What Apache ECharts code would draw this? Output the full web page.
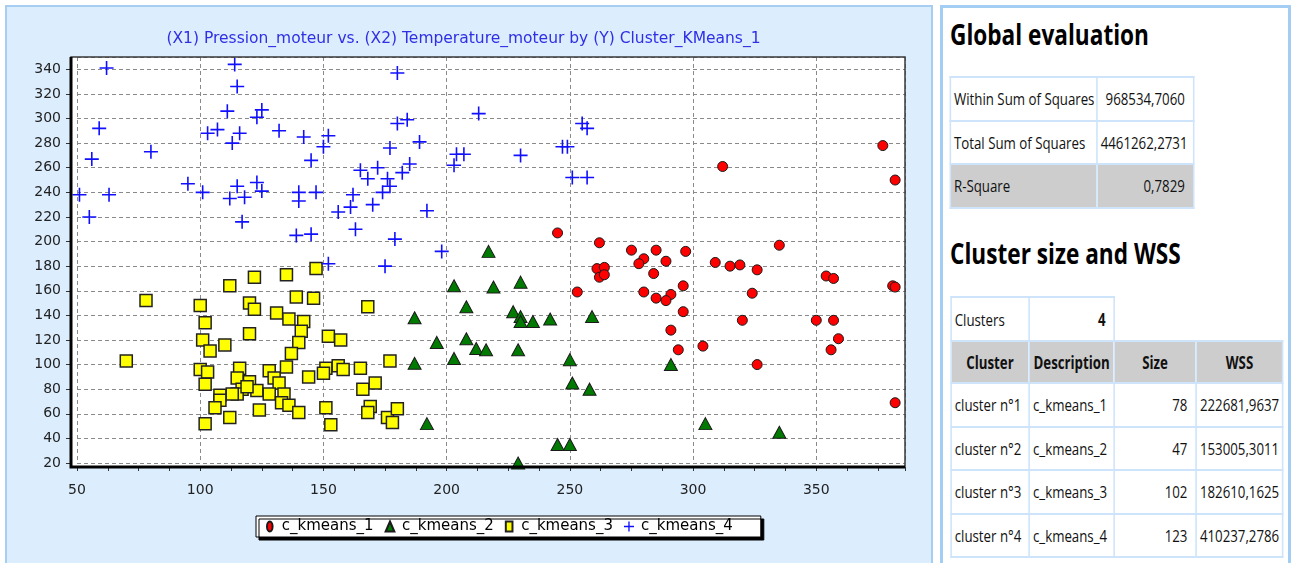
<!DOCTYPE html>
<html>
<head>
<meta charset="utf-8">
<title>Cluster_KMeans_1</title>
<script src="https://cdn.jsdelivr.net/npm/echarts@6/dist/echarts.min.js"></script>
<style>
  html, body { margin: 0; padding: 0; width: 1292px; height: 563px; overflow: hidden; background: #fff; }
  #panel { position: absolute; left: 5px; top: 5px; width: 928px; height: 600px; box-sizing: border-box;
           background: #dcedfd; border: 2px solid #a6cdf2; }
  #chart { position: absolute; left: 0; top: 0; width: 927px; height: 563px; }
  #report { position: absolute; left: 940px; top: 5px; width: 351px; height: 600px; box-sizing: border-box;
            background: #fff; border: 3px solid #a4cdf3; }
  #rc { position: absolute; left: 948px; top: 0; width: 600px; height: 563px; transform: scaleX(0.78);
        transform-origin: 0 0; font-family: 'Open Sans', sans-serif; color: #111; }
  .h { position: absolute; margin: 0; font-weight: bold; font-size: 29px; line-height: 29px; white-space: nowrap; color: #000; }
  table { position: absolute; border-collapse: collapse; table-layout: fixed; font-size: 17px; }
  td { border: 2px solid #cde4fa; padding: 0 10px 0 4px; white-space: nowrap; background: #fff; overflow: hidden; }
  td.num { text-align: right; }
  td.head { text-align: center; font-weight: bold; background: #cdcdcd; padding: 0 2px; }
  tr.grey td { background: #cdcdcd; }
  td.blank { border: none; background: transparent; }
</style>
</head>
<body>
<div id="panel"></div>
<div id="chart"></div>
<div id="report"></div>
<div id="rc">
  <h2 class="h" id="h1" style="left:2.6px;top:19px;">Global evaluation</h2>
  <table id="global" style="left:1.7px;top:76px;"></table>
  <h2 class="h" id="h2" style="left:2.6px;top:238px;">Cluster size and WSS</h2>
  <table id="clusters" style="left:2.6px;top:296px;"></table>
</div>
<script>
// ---- scatter data: [Pression_moteur, Temperature_moteur] ----
const seriesNames = ['c_kmeans_1', 'c_kmeans_2', 'c_kmeans_3', 'c_kmeans_4'];

const kmeans1 = [
  [377,278],[312,261],[382,250],[245,207],[262,199],[275,193],[285,193],[297,192],[335,197],
  [289,184],[280,186],[278,182],[309,183],[315,180],[319,181],[326,177],[261,178],[264,179],
  [262,171],[264,173],[284,174],[354,172],[357,170],[381,164],[382,163],[296,164],[253,159],
  [280,159],[285,154],[291,157],[289,152],[324,158],[296,143],[291,128],[294,112],[304,115],
  [320,136],[326,100],[350,136],[357,136],[359,121],[356,112],[382,69]
];

const kmeans2 = [
  [217,192],[203,164],[219,163],[230,167],[208,147],[227,143],[230,139],[230,135],[235,135],
  [242,137],[259,139],[208,121],[212,113],[216,112],[229,112],[203,105],[250,104],[291,100],
  [251,85],[258,80],[305,52],[335,45],[245,35],[250,35],[229,20],[187,138],[196,118],
  [187,101],[192,52]
];

const kmeans3 = [
  [78,152],[70,103],[100,148],[102,134],[101,120],[104,111],[110,116],[100,96],[103,94],
  [102,84],[108,75],[108,71],[106,65],[102,52],[112,57],[112,164],[122,171],[135,173],
  [147,178],[120,150],[122,145],[120,125],[131,142],[136,137],[142,135],[139,155],[146,154],
  [141,127],[140,118],[137,109],[135,98],[116,97],[115,89],[120,86],[117,80],[115,76],
  [113,76],[123,79],[128,95],[130,89],[132,85],[128,76],[134,76],[133,69],[136,67],
  [140,61],[124,63],[152,123],[157,120],[151,97],[156,99],[158,96],[144,90],[150,93],
  [151,65],[153,51],[168,147],[165,97],[166,80],[171,85],[177,103],[169,66],[168,61],
  [176,57],[178,53],[180,64],[119,82]
];

const kmeans4 = [
  [62,341],[114,344],[115,326],[111,306],[123,301],[125,307],[59,292],[103,288],[107,291],
  [116,288],[113,280],[132,290],[142,285],[152,286],[150,277],[145,266],[56,267],[80,273],
  [51,238],[63,238],[55,220],[95,247],[101,240],[115,245],[112,235],[118,236],[123,248],
  [125,241],[117,216],[140,240],[140,233],[147,240],[139,205],[145,206],[152,182],[156,224],
  [161,228],[162,238],[163,210],[170,230],[165,258],[168,251],[172,260],[176,251],[174,240],
  [177,245],[182,256],[185,263],[177,276],[180,296],[184,299],[180,337],[189,281],[192,225],
  [175,180],[179,202],[198,192],[203,262],[204,271],[207,271],[213,304],[230,270],[247,277],
  [249,277],[255,296],[257,292],[251,252],[257,252]
];

// ---- axis ticks ----
const xTicks = [50, 100, 150, 200, 250, 300, 350];
const yTicks = [20, 40, 60, 80, 100, 120, 140, 160, 180, 200, 220, 240, 260, 280, 300, 320, 340];
const xMax = 386;
const yMax = 350;

// ---- report tables ----
const globalLabels = ['Within Sum of Squares', 'Total Sum of Squares', 'R-Square'];
const globalValues = ['968534,7060', '4461262,2731', '0,7829'];
const clusterCount = 4;
const clusterHeaders = ['Cluster', 'Description', 'Size', 'WSS'];
const clusterIds = ['cluster n°1', 'cluster n°2', 'cluster n°3', 'cluster n°4'];
const clusterSizes = [78, 47, 102, 123];
const clusterWss = ['222681,9637', '153005,3011', '182610,1625', '410237,2786'];

const titleText = '(X1) Pression_moteur vs. (X2) Temperature_moteur by (Y) Cluster_KMeans_1';

// ---- layout ----
const PLOT = { left: 77, top: 57, width: 828, height: 406 };
const Y_AXIS_OFFSET = 6;
const X_AXIS_OFFSET = 4;
const frameLeft = PLOT.left - Y_AXIS_OFFSET;
const frameRight = PLOT.left + PLOT.width;
const frameTop = PLOT.top;
const frameBottom = PLOT.top + PLOT.height + X_AXIS_OFFSET;

const FONT = 'DejaVu Sans';
const plusPath = 'path://M0,6.2H14V7.8H0ZM6.2,0H7.8V14H6.2Z';

const chart = echarts.init(document.getElementById('chart'), null, { renderer: 'canvas' });

chart.setOption({
  animation: false,
  title: {
    text: titleText,
    left: 'center',
    top: 31,
    padding: 0,
    textStyle: { fontFamily: FONT, fontSize: 15.5, fontWeight: 'normal', color: '#2f2fe6' }
  },
  legend: {
    left: 256,
    top: 516,
    orient: 'horizontal',
    padding: [3, 28, 3, 10],
    itemGap: 11,
    itemWidth: 14,
    itemHeight: 10,
    backgroundColor: '#fff',
    borderColor: '#000',
    borderWidth: 1,
    shadowColor: '#000',
    shadowBlur: 0,
    shadowOffsetX: 3,
    shadowOffsetY: 3,
    selectedMode: false,
    textStyle: { fontFamily: FONT, fontSize: 15, color: '#000' },
    data: [
      { name: seriesNames[0], icon: 'path://M2.5,0A2.5,4.5,0,1,1,2.5,9A2.5,4.5,0,1,1,2.5,0Z' },
      { name: seriesNames[1], icon: 'path://M3.5,0L7,8H0Z' },
      { name: seriesNames[2], icon: 'path://M0,0H6V9H0Z' },
      { name: seriesNames[3], icon: 'path://M0,3.9H9V5.1H0ZM3.9,0H5.1V9H3.9Z' }
    ]
  },
  grid: {
    left: PLOT.left, top: PLOT.top, width: PLOT.width, height: PLOT.height,
    outerBoundsMode: 'none', containLabel: false
  },
  xAxis: {
    type: 'value',
    min: xTicks[0],
    max: xMax,
    interval: xTicks[1] - xTicks[0],
    offset: X_AXIS_OFFSET,
    axisLine: { show: false },
    axisTick: { show: true, length: 4, lineStyle: { color: '#333', width: 1 } },
    minorTick: { show: true, splitNumber: 4, length: 4, lineStyle: { color: '#333', width: 1 } },
    axisLabel: { fontFamily: FONT, fontSize: 14, color: '#222', margin: 16, showMaxLabel: false },
    splitLine: { show: true, lineStyle: { color: '#8a8a8a', width: 1, type: [4, 3] } }
  },
  yAxis: {
    type: 'value',
    min: yTicks[0],
    max: yMax,
    interval: yTicks[1] - yTicks[0],
    offset: Y_AXIS_OFFSET,
    axisLine: { show: false },
    axisTick: { show: true, length: 5, lineStyle: { color: '#333', width: 1 } },
    axisLabel: { fontFamily: FONT, fontSize: 14, color: '#222', margin: 10, showMaxLabel: false },
    splitLine: { show: true, lineStyle: { color: '#8a8a8a', width: 1, type: [4, 3] } }
  },
  graphic: [
    { type: 'rect', z: -10, silent: true,
      shape: { x: frameLeft, y: frameTop, width: frameRight - frameLeft, height: frameBottom - frameTop },
      style: { fill: '#fff' } },
    { type: 'rect', z: 100, silent: true,
      shape: { x: frameLeft, y: frameTop, width: frameRight - frameLeft, height: frameBottom - frameTop },
      style: { fill: null, stroke: '#3a3a3a', lineWidth: 1.5 } },
    { type: 'polyline', z: 101, silent: true,
      shape: { points: [[frameLeft, frameTop], [frameLeft, frameBottom], [frameRight, frameBottom]] },
      style: { fill: null, stroke: '#000', lineWidth: 3 } }
  ],
  series: [
    { name: seriesNames[0], type: 'scatter', data: kmeans1, symbol: 'circle', symbolSize: 10,
      itemStyle: { color: '#ff0000', borderColor: '#1a1a1a', borderWidth: 1, opacity: 1 },
      emphasis: { disabled: true } },
    { name: seriesNames[1], type: 'scatter', data: kmeans2, symbol: 'triangle', symbolSize: [13, 12],
      itemStyle: { color: '#007a00', borderColor: '#1a1a1a', borderWidth: 1, opacity: 1 },
      emphasis: { disabled: true } },
    { name: seriesNames[2], type: 'scatter', data: kmeans3, symbol: 'rect', symbolSize: 12,
      itemStyle: { color: '#ffff00', borderColor: '#222', borderWidth: 1.5, opacity: 1 },
      emphasis: { disabled: true } },
    { name: seriesNames[3], type: 'scatter', data: kmeans4, symbol: plusPath, symbolSize: 14,
      itemStyle: { color: '#1010ff', borderWidth: 0, opacity: 1 },
      emphasis: { disabled: true } }
  ]
});

// ---- report tables ----
function cell(text, cls) {
  const td = document.createElement('td');
  if (cls) td.className = cls;
  td.textContent = text;
  return td;
}

function addCols(table, widths) {
  const group = document.createElement('colgroup');
  widths.forEach(w => {
    const c = document.createElement('col');
    c.style.width = w + 'px';
    group.appendChild(c);
  });
  table.appendChild(group);
  table.style.width = widths.reduce((a, b) => a + b, 0) + 'px';
}

const globalTable = document.getElementById('global');
addCols(globalTable, [188, 124]);
globalLabels.forEach((label, i) => {
  const tr = document.createElement('tr');
  tr.style.height = '43.5px';
  if (label === 'R-Square') tr.className = 'grey';
  tr.appendChild(cell(label));
  tr.appendChild(cell(globalValues[i], 'num'));
  globalTable.appendChild(tr);
});

const clusterTable = document.getElementById('clusters');
addCols(clusterTable, [100.4, 109, 105, 111.5]);

const countRow = document.createElement('tr');
countRow.style.height = '44px';
countRow.appendChild(cell('Clusters'));
const countCell = cell(String(clusterCount), 'num');
countCell.style.fontWeight = 'bold';
countRow.appendChild(countCell);
const blank = cell('', 'blank');
blank.colSpan = 2;
countRow.appendChild(blank);
clusterTable.appendChild(countRow);

const headRow = document.createElement('tr');
headRow.style.height = '42px';
clusterHeaders.forEach(h => headRow.appendChild(cell(h, 'head')));
clusterTable.appendChild(headRow);

clusterIds.forEach((id, i) => {
  const tr = document.createElement('tr');
  tr.style.height = '43.5px';
  tr.appendChild(cell(id));
  tr.appendChild(cell(seriesNames[i]));
  tr.appendChild(cell(String(clusterSizes[i]), 'num'));
  tr.appendChild(cell(clusterWss[i], 'num'));
  clusterTable.appendChild(tr);
});
</script>
</body>
</html>
